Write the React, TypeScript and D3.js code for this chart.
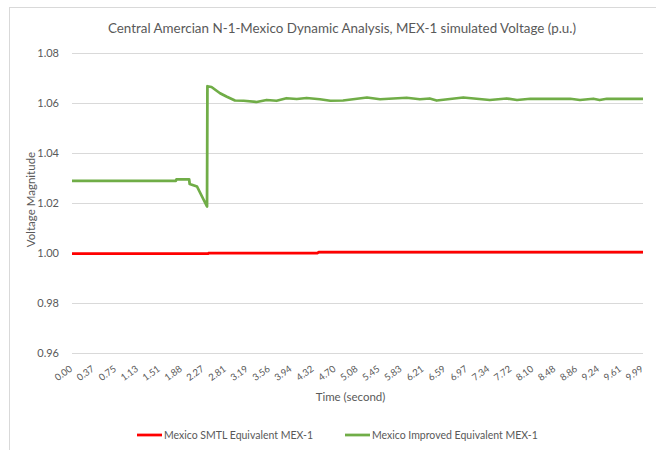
import { useEffect, useRef } from "react";
import * as d3 from "d3";

// x axis categories shown as tick labels (time, s)
const TIME_TICKS = [
  0.0, 0.37, 0.75, 1.13, 1.51, 1.88, 2.27, 2.81, 3.19, 3.56, 3.94, 4.32, 4.7,
  5.08, 5.45, 5.83, 6.21, 6.59, 6.97, 7.34, 7.72, 8.1, 8.48, 8.86, 9.24, 9.61,
  9.99,
];
const Y_TICKS = [0.96, 0.98, 1.0, 1.02, 1.04, 1.06, 1.08];

// Mexico SMTL Equivalent MEX-1
const SMTL_TIME = [0.0, 2.38, 2.4, 4.39, 4.41, 9.99];
const SMTL_V = [1.0, 1.0, 1.0002, 1.0002, 1.0006, 1.0006];

// Mexico Improved Equivalent MEX-1
const IMPROVED_TIME = [
  0.0, 1.78, 1.79, 2.01, 2.02, 2.15, 2.35, 2.36, 2.46, 2.67, 2.83, 2.97, 3.12,
  3.34, 3.51, 3.68, 3.85, 4.03, 4.2, 4.43, 4.61, 4.83, 5.24, 5.46, 5.92, 6.15,
  6.32, 6.44, 6.9, 7.35, 7.64, 7.82, 8.05, 8.74, 8.91, 9.14, 9.25, 9.37, 9.99,
];
const IMPROVED_V = [
  1.0291, 1.0291, 1.0297, 1.0297, 1.0278, 1.0268, 1.0188, 1.0669, 1.0666,
  1.0641, 1.0627, 1.0612, 1.0611, 1.0606, 1.0614, 1.0611, 1.0621, 1.0618,
  1.0622, 1.0617, 1.0611, 1.0612, 1.0624, 1.0617, 1.0623, 1.0617, 1.062,
  1.0612, 1.0624, 1.0614, 1.062, 1.0614, 1.0619, 1.0619, 1.0614, 1.0619,
  1.0614, 1.0619, 1.0619,
];

const SERIES = [
  { name: "Mexico SMTL Equivalent MEX-1", color: "#ff0000", t: SMTL_TIME, v: SMTL_V },
  { name: "Mexico Improved Equivalent MEX-1", color: "#70ad47", t: IMPROVED_TIME, v: IMPROVED_V },
];

const FONT = "Lato, 'Open Sans', sans-serif";
const TEXT = "#595959";
const GRID = "#d9d9d9";

export default function App() {
  const ref = useRef<SVGSVGElement>(null);

  useEffect(() => {
    if (!ref.current) return;
    const svg = d3.select(ref.current);
    svg.selectAll("*").remove();

    const W = 656;
    const H = 450;
    const m = { top: 53.5, right: 13, bottom: 96.5, left: 72 };
    const w = W - m.left - m.right;
    const h = H - m.top - m.bottom;

    // chart frame
    svg
      .append("rect")
      .attr("x", 9.5)
      .attr("y", 7.5)
      .attr("width", W)
      .attr("height", H)
      .attr("fill", "#fff")
      .attr("stroke", GRID);

    // category axis: equal spacing per label, time mapped piecewise
    const labels = TIME_TICKS.map((t) => t.toFixed(2));
    const cat = d3.scalePoint<string>().domain(labels).range([0, w]);
    const x = d3
      .scaleLinear()
      .domain(TIME_TICKS)
      .range(labels.map((l) => cat(l) as number));
    const y = d3.scaleLinear().domain([0.96, 1.08]).range([h, 0]);

    const g = svg.append("g").attr("transform", `translate(${m.left},${m.top})`);

    // Grid
    g.append("g")
      .selectAll("line")
      .data(Y_TICKS)
      .join("line")
      .attr("x1", 0)
      .attr("x2", w)
      .attr("y1", (d) => y(d))
      .attr("y2", (d) => y(d))
      .attr("stroke", GRID)
      .attr("stroke-width", 1);

    // Y tick labels
    g.append("g")
      .selectAll("text")
      .data(Y_TICKS)
      .join("text")
      .attr("x", -13)
      .attr("y", (d) => y(d))
      .attr("dy", "0.35em")
      .attr("text-anchor", "end")
      .attr("font-size", 11)
      .attr("font-family", FONT)
      .attr("fill", TEXT)
      .text((d) => d.toFixed(2));

    // X tick labels (rotated)
    g.append("g")
      .selectAll("text")
      .data(labels)
      .join("text")
      .attr(
        "transform",
        (d) => `translate(${(cat(d) as number) - 1},${h + 14}) rotate(-36)`,
      )
      .attr("text-anchor", "end")
      .attr("dy", "0.35em")
      .attr("font-size", 9.5)
      .attr("font-family", FONT)
      .attr("fill", TEXT)
      .text((d) => d);

    // Axis titles
    g.append("text")
      .attr("x", w / 2 - 7)
      .attr("y", h + 47)
      .attr("text-anchor", "middle")
      .attr("font-size", 11.5)
      .attr("font-family", FONT)
      .attr("fill", TEXT)
      .text("Time (second)");
    g.append("text")
      .attr("transform", "rotate(-90)")
      .attr("x", -146)
      .attr("y", -37)
      .attr("text-anchor", "middle")
      .attr("font-size", 11.5)
      .attr("font-family", FONT)
      .attr("fill", TEXT)
      .text("Voltage Magnitude");

    // Lines
    const line = d3
      .line<[number, number]>()
      .x((d) => x(d[0]))
      .y((d) => y(d[1]));
    SERIES.forEach((s) => {
      g.append("path")
        .datum(s.t.map((t, i) => [t, s.v[i]] as [number, number]))
        .attr("fill", "none")
        .attr("stroke", s.color)
        .attr("stroke-width", 2.75)
        .attr("stroke-linejoin", "round")
        .attr("d", line);
    });

    // Title
    svg
      .append("text")
      .attr("x", 342)
      .attr("y", 33)
      .attr("text-anchor", "middle")
      .attr("font-size", 13.4)
      .attr("font-family", FONT)
      .attr("fill", TEXT)
      .text("Central Amercian N-1-Mexico Dynamic Analysis, MEX-1 simulated Voltage (p.u.)");

    // Legend
    const legendX = [137, 345];
    const lg = svg.append("g").attr("transform", "translate(0,435)");
    SERIES.forEach((s, i) => {
      lg.append("line")
        .attr("x1", legendX[i])
        .attr("x2", legendX[i] + 25)
        .attr("y1", 0)
        .attr("y2", 0)
        .attr("stroke", s.color)
        .attr("stroke-width", 2.75);
      lg.append("text")
        .attr("x", legendX[i] + 27)
        .attr("y", 0)
        .attr("dy", "0.35em")
        .attr("font-size", 10.5)
        .attr("font-family", FONT)
        .attr("fill", TEXT)
        .text(s.name);
    });
  }, []);

  return (
    <div style={{ position: "absolute", left: 0, top: 0 }}>
      <svg ref={ref} width={656} height={450} style={{ display: "block" }} />
    </div>
  );
}
